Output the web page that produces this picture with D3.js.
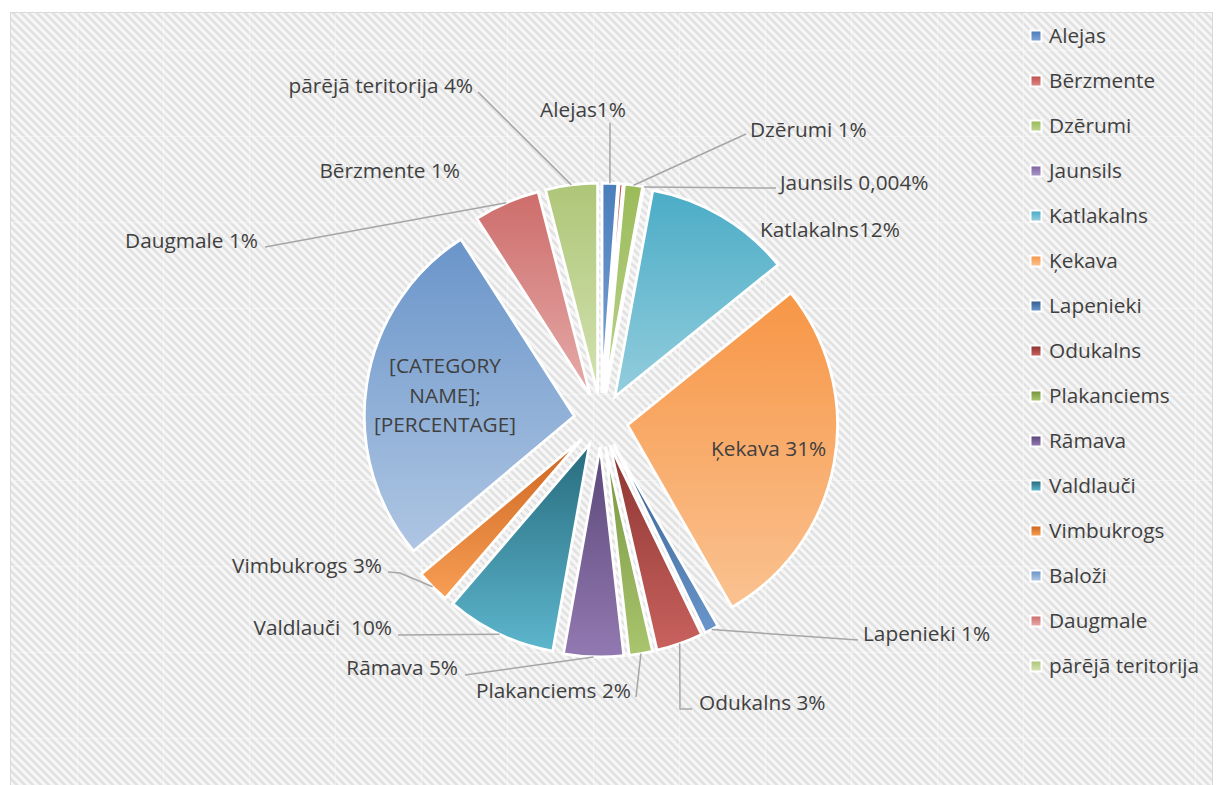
<!DOCTYPE html>
<html><head><meta charset="utf-8">
<script src="https://cdn.jsdelivr.net/npm/d3@7"></script>
<style>
html,body{margin:0;padding:0;background:#fff;}
svg{display:block;}
text{font-family:"Open Sans",sans-serif;fill:#404040;white-space:pre;}
</style></head><body>
<svg id="chart" width="1216" height="785"></svg>
<script>
// ---------- data ----------
const categories = ["Alejas","Bērzmente","Dzērumi","Jaunsils","Katlakalns","Ķekava","Lapenieki","Odukalns","Plakanciems","Rāmava","Valdlauči","Vimbukrogs","Baloži","Daugmale","pārējā teritorija"];
const values = [1.2, 0.3, 1.4, 0.004, 11.3, 27.6, 1.1, 3.6, 1.8, 4.6, 8.5, 2.6, 27.1, 5.1, 4.0];
const dataLabels = ["Alejas1%","Bērzmente 1%","Dzērumi 1%","Jaunsils 0,004%","Katlakalns12%","Ķekava 31%","Lapenieki 1%","Odukalns 3%","Plakanciems 2%","Rāmava 5%","Valdlauči  10%","Vimbukrogs 3%","[CATEGORY NAME]; [PERCENTAGE]","Daugmale 1%","pārējā teritorija 4%"];
const topColors    = ["#4A7EBB","#C0504D","#9BBB59","#8064A2","#4BACC6","#F79646","#365E8F","#8C3431","#77943F","#5A4778","#276B7D","#CC6520","#6A95C9","#CD6D6B","#AEC678"];
const bottomColors = ["#7FA3D3","#D88A88","#BCD38E","#A996C4","#93CDDD","#FAC291","#6A96CB","#C8625E","#A9C56E","#9379B1","#5DB6CD","#F89E55","#AFC6E3","#E5ABA9","#D3E2B1"];

// ---------- layout ----------
const W = 1216, H = 785;
const cx = 601, cy = 420, R = 210, explode = 27;
const labelLayout = [
  {x:583, y:117, anchor:"middle", leader:[[610,123]]},
  {x:460, y:178, anchor:"end"},
  {x:750, y:137, anchor:"start", leader:[[746,134]]},
  {x:780, y:190, anchor:"start", leader:[[776,188]]},
  {x:760, y:237, anchor:"start"},
  {x:711, y:456, anchor:"start"},
  {x:863, y:641, anchor:"start", leader:[[858,640]]},
  {x:699, y:710, anchor:"start", leader:[[692,709],[680,709]]},
  {x:631, y:698, anchor:"end", leader:[[636,697]]},
  {x:458, y:675, anchor:"end", leader:[[465,675]]},
  {x:392, y:635, anchor:"end", leader:[[398,635]]},
  {x:382, y:573, anchor:"end", leader:[[388,572],[400,573]]},
  {x:445, y:373, anchor:"middle", lines:["[CATEGORY","NAME];","[PERCENTAGE]"]},
  {x:258, y:248, anchor:"end", leader:[[265,247]]},
  {x:473, y:93, anchor:"end", leader:[[478,92]]}
];

const svg = d3.select("#chart");
const defs = svg.append("defs");

// striped background pattern
const pat = defs.append("pattern").attr("id","stripes").attr("patternUnits","userSpaceOnUse")
  .attr("width",8).attr("height",8);
pat.append("rect").attr("width",8).attr("height",8).attr("fill","#f6f6f6");
pat.append("path").attr("d","M-2,-2L10,10M-2,6L2,10M6,-2L10,2")
  .attr("stroke","#e1e1e1").attr("stroke-width",2.6).attr("fill","none");

// gradients
categories.forEach((c,i)=>{
  const g = defs.append("linearGradient").attr("id","grad"+i)
    .attr("x1",0).attr("y1",0).attr("x2",0).attr("y2",1);
  g.append("stop").attr("offset","0%").attr("stop-color",topColors[i]);
  g.append("stop").attr("offset","100%").attr("stop-color",bottomColors[i]);
});

// chart area
svg.append("rect").attr("x",10.5).attr("y",12.5).attr("width",1202).attr("height",800)
  .attr("fill","url(#stripes)").attr("stroke","#d9d9d9").attr("stroke-width",1);
// texture tile seams
const seams = svg.append("g").attr("stroke","#fbfbfb").attr("stroke-width",1).attr("opacity",0.5);
d3.range(77, 1212, 86).forEach(x=>seams.append("line").attr("x1",x+0.5).attr("x2",x+0.5).attr("y1",13).attr("y2",H));
d3.range(50, H, 86).forEach(y=>seams.append("line").attr("y1",y+0.5).attr("y2",y+0.5).attr("x1",11).attr("x2",1212));

// pie
const pie = d3.pie().sort(null).value(d=>d).startAngle(0).endAngle(2*Math.PI);
const arcs = pie(values);
const arc = d3.arc().innerRadius(0).outerRadius(R);
const mid = d => (d.startAngle + d.endAngle)/2;

const slices = svg.append("g");
arcs.forEach((d,i)=>{
  const a = mid(d);
  slices.append("path")
    .attr("transform",`translate(${cx+explode*Math.sin(a)},${cy-explode*Math.cos(a)})`)
    .attr("d", arc(d))
    .attr("fill", `url(#grad${i})`)
    .attr("stroke","#fff").attr("stroke-width",2.8).attr("stroke-linejoin","miter");
});

// leader lines
const lineGen = d3.line();
arcs.forEach((d,i)=>{
  const L = labelLayout[i];
  if(!L.leader) return;
  const a = mid(d);
  const p = [cx+(R+explode)*Math.sin(a), cy-(R+explode)*Math.cos(a)];
  const pts = L.leader.concat([p]);
  svg.append("path").attr("d", lineGen(pts)).attr("fill","none")
    .attr("stroke","#a6a6a6").attr("stroke-width",1.5);
});

// labels
const fs = 20.8;
arcs.forEach((d,i)=>{
  const L = labelLayout[i];
  const t = svg.append("text").attr("x",L.x).attr("y",L.y).attr("text-anchor",L.anchor)
    .attr("font-size",fs);
  if(L.lines){
    L.lines.forEach((ln,k)=>t.append("tspan").attr("x",L.x).attr("y",L.y+k*29.5).text(ln));
  } else t.text(dataLabels[i]);
});

// legend
const leg = svg.append("g");
categories.forEach((c,i)=>{
  const y = 36 + i*45;
  leg.append("rect").attr("x",1029.5).attr("y",y-6.5).attr("width",13).attr("height",13).attr("fill","#fff");
  leg.append("rect").attr("x",1031.5).attr("y",y-4.5).attr("width",9).attr("height",9).attr("fill",`url(#grad${i})`);
  leg.append("text").attr("x",1049).attr("y",y+7).attr("font-size",fs).text(c);
});
</script>
</body></html>
